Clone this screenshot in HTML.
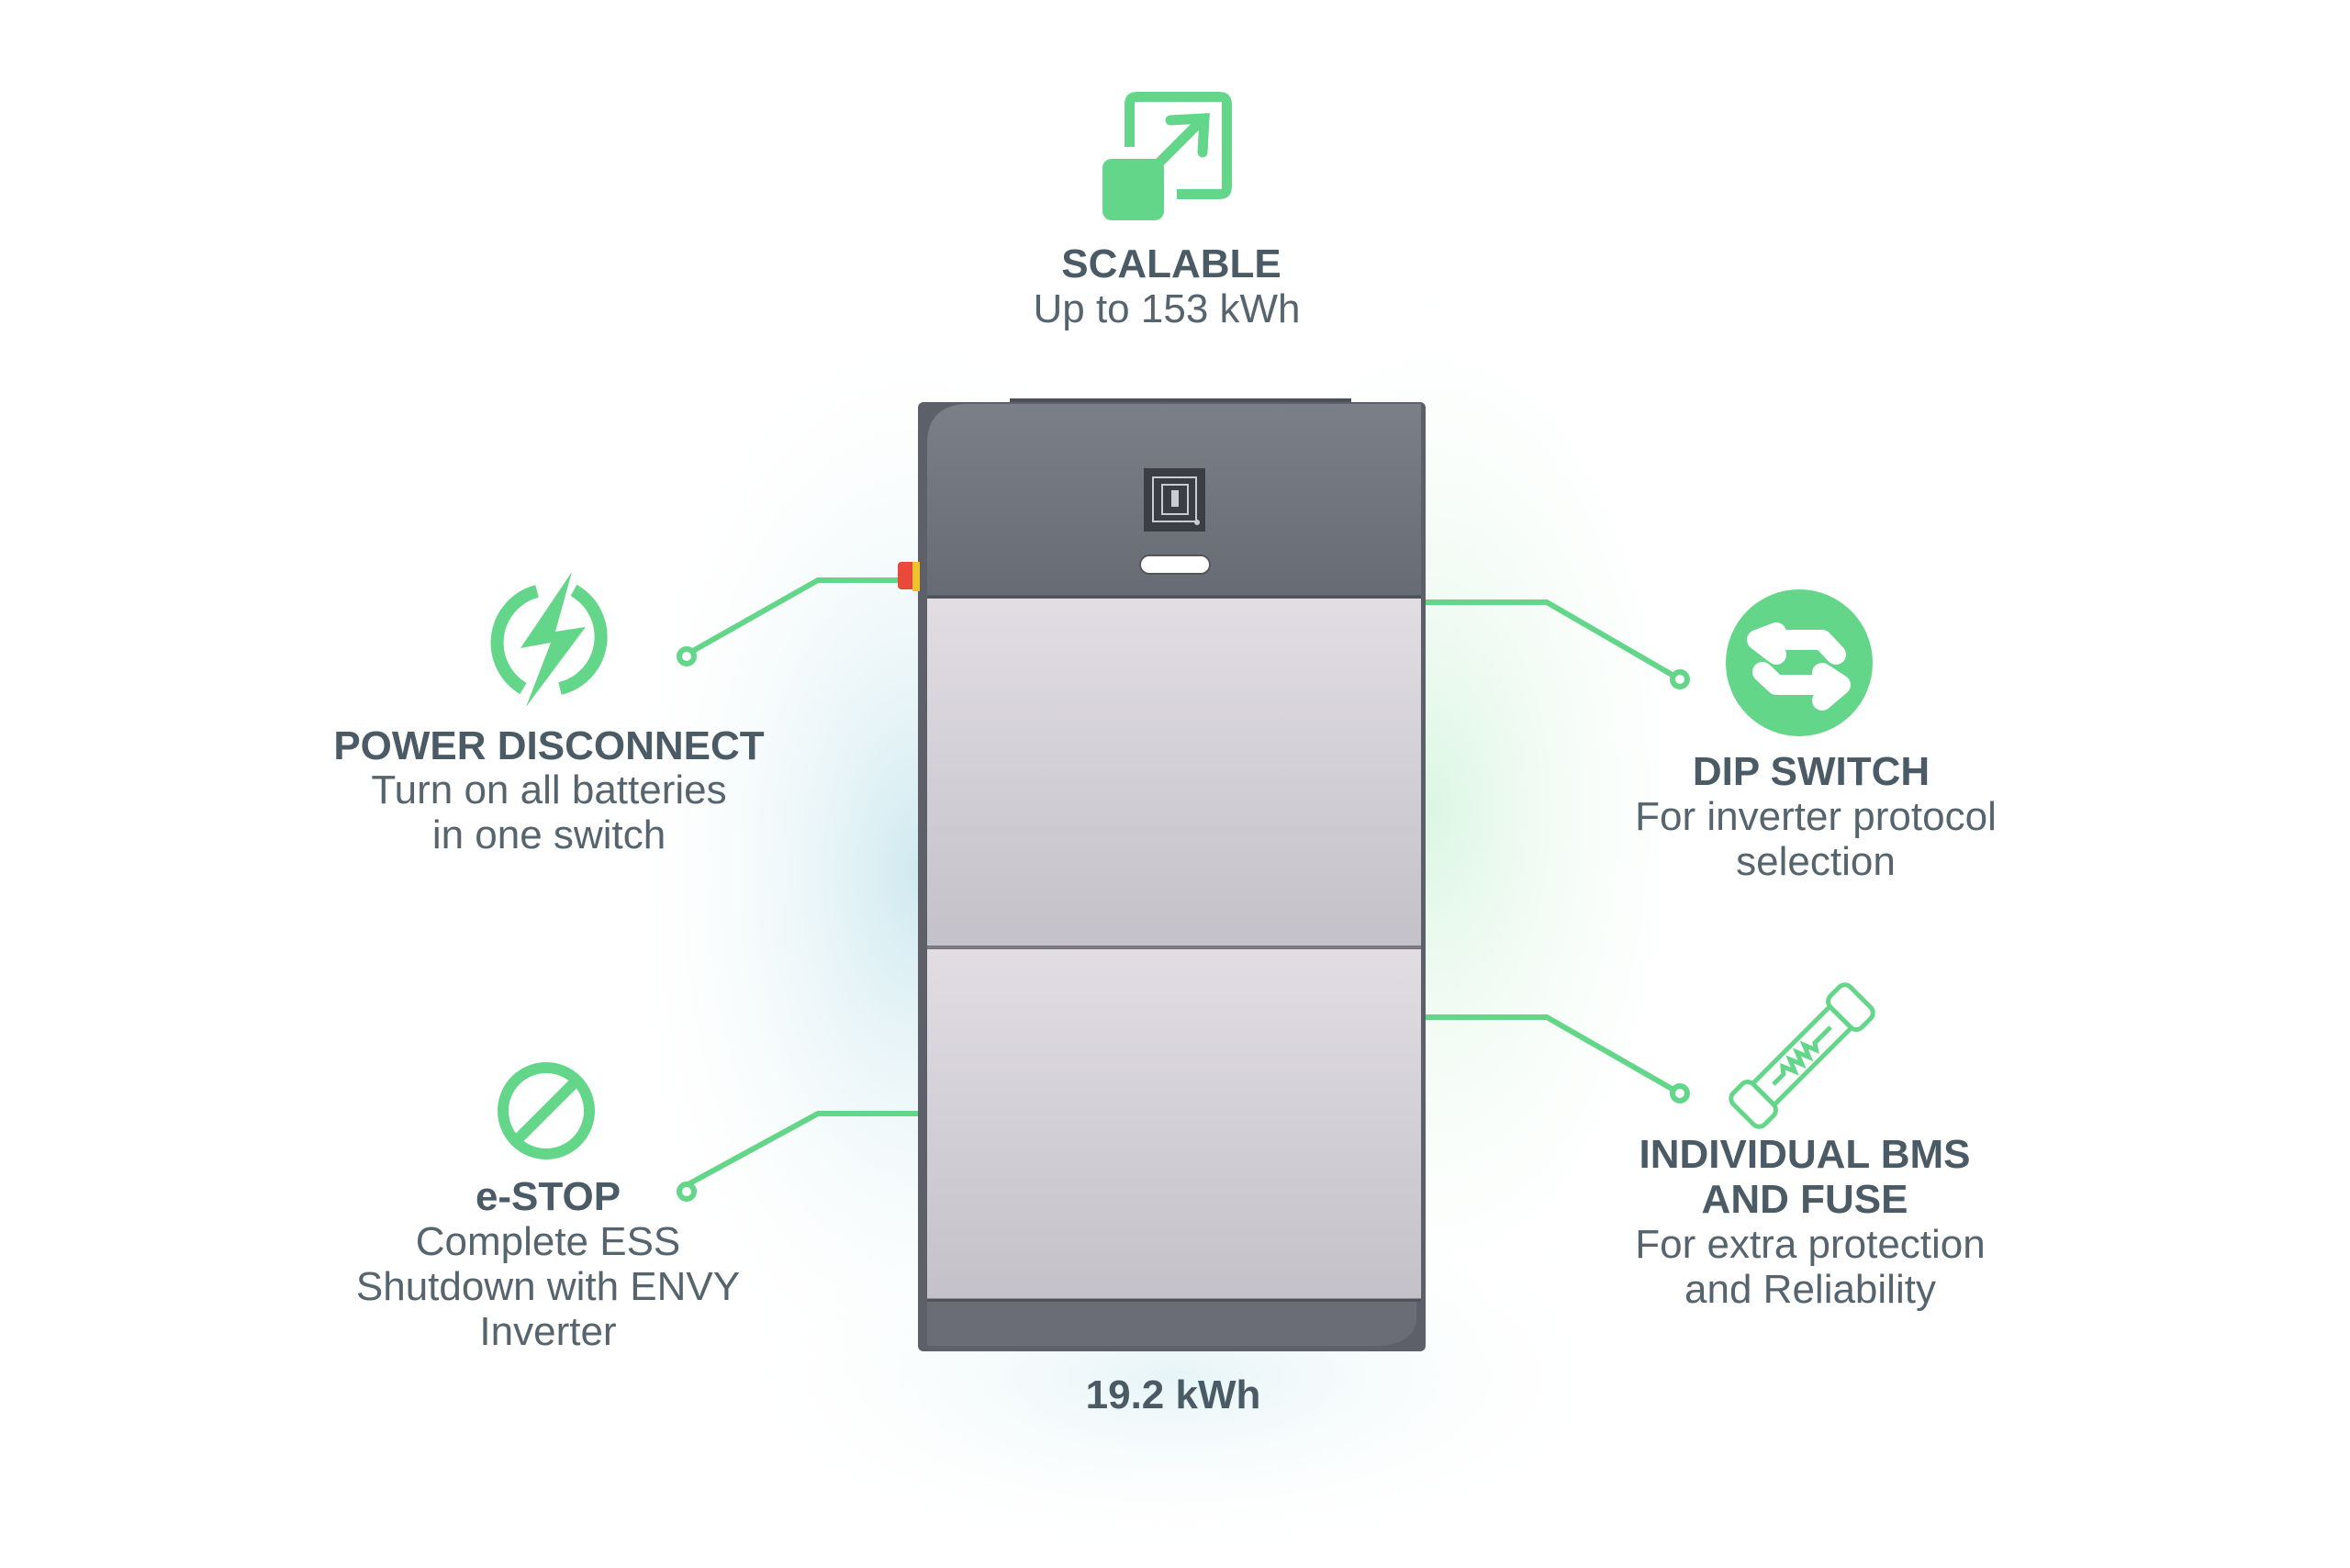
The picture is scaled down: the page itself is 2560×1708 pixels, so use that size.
<!DOCTYPE html>
<html><head><meta charset="utf-8"><style>
html,body{margin:0;padding:0;background:#fff;}
body{width:2560px;height:1708px;overflow:hidden;position:relative;font-family:"Liberation Sans",sans-serif;}
svg{position:absolute;left:0;top:0;}
</style></head><body>
<svg width="2560" height="1708" viewBox="0 0 2560 1708">
<defs>
<radialGradient id="gl" cx="0.5" cy="0.5" r="0.5">
<stop offset="0" stop-color="#bfe2eb" stop-opacity="0.75"/>
<stop offset="1" stop-color="#ffffff" stop-opacity="0"/>
</radialGradient>
<radialGradient id="gr" cx="0.5" cy="0.5" r="0.5">
<stop offset="0" stop-color="#cdf2d8" stop-opacity="0.7"/>
<stop offset="1" stop-color="#ffffff" stop-opacity="0"/>
</radialGradient>
<radialGradient id="gt" cx="0.5" cy="0.5" r="0.5">
<stop offset="0" stop-color="#dcf0f3" stop-opacity="0.7"/>
<stop offset="1" stop-color="#ffffff" stop-opacity="0"/>
</radialGradient>
<linearGradient id="pan" x1="0" y1="0" x2="0" y2="1">
<stop offset="0" stop-color="#e1dde3"/><stop offset="1" stop-color="#c4c1c9"/>
</linearGradient>
<linearGradient id="top" x1="0" y1="0" x2="0" y2="1">
<stop offset="0" stop-color="#7b8088"/><stop offset="1" stop-color="#676b74"/>
</linearGradient>
</defs>
<ellipse cx="1000" cy="950" rx="330" ry="620" fill="url(#gl)"/>
<ellipse cx="1560" cy="880" rx="320" ry="620" fill="url(#gr)"/>
<ellipse cx="1280" cy="1500" rx="500" ry="200" fill="url(#gt)"/>

<g stroke="#63d68a" stroke-width="6" fill="none">
<polyline points="746,714 891,632 1000,632"/>
<polyline points="746,1292 891,1213 1002,1213"/>
<polyline points="1550,656 1685,656 1830,740"/>
<polyline points="1550,1108 1685,1108 1830,1191"/>
</g>
<g fill="#fff" stroke="#63d68a" stroke-width="6">
<circle cx="748" cy="715" r="8"/><circle cx="748" cy="1298" r="8"/>
<circle cx="1830" cy="740" r="8"/><circle cx="1830" cy="1191" r="8"/>
</g>

<rect x="1100" y="434" width="372" height="8" fill="#4d5057"/>
<rect x="1000" y="438" width="553" height="1034" rx="6" fill="#5d6068"/>
<path d="M1010 440 H1548 V649 H1010 V480 Q1012 443 1050 440 Z" fill="url(#top)"/>
<rect x="1010" y="652" width="538" height="378" fill="url(#pan)"/>
<rect x="1010" y="1034" width="538" height="381" fill="url(#pan)"/>
<line x1="1010" y1="650" x2="1548" y2="650" stroke="#4e5159" stroke-width="3"/>
<line x1="1010" y1="1032" x2="1548" y2="1032" stroke="#7f7d86" stroke-width="3"/>
<line x1="1010" y1="1416" x2="1548" y2="1416" stroke="#4e5159" stroke-width="3"/>
<path d="M1010 1418 H1543 V1440 Q1538 1464 1503 1466 H1010 Z" fill="#6a6d75"/>
<rect x="1246" y="510" width="67" height="69" fill="#3b3e44"/>
<rect x="1256" y="520" width="47" height="48" fill="none" stroke="#c9ccd0" stroke-width="2"/>
<rect x="1266" y="528" width="28" height="32" fill="none" stroke="#c9ccd0" stroke-width="2"/>
<rect x="1276" y="534" width="8" height="18" fill="#c9ccd0"/>
<circle cx="1304" cy="569" r="3" fill="#c9ccd0"/>
<rect x="1242" y="605" width="76" height="20" rx="10" fill="#fff" stroke="#555" stroke-width="2"/>
<rect x="978" y="612" width="22" height="30" rx="4" fill="#e8493a"/>
<rect x="994" y="612" width="8" height="32" fill="#f2c12e"/>

<g fill="#63d68a">
<path d="M1225 160 V114 Q1225 100 1239 100 H1328 Q1342 100 1342 114 V203 Q1342 217 1328 217 H1282 V206 H1331 V111 H1236 V160 Z"/>
<rect x="1201" y="173" width="67" height="67" rx="10"/>
</g>
<g stroke="#63d68a" stroke-width="11" stroke-linecap="round" fill="none">
<line x1="1258" y1="182" x2="1310" y2="130"/>
<polyline points="1275,131 1312,129 1310,166"/>
</g>

<g fill="none" stroke="#63d68a" stroke-width="14">
<path d="M570 750 A58 58 0 0 1 585 644"/>
<path d="M625 643 A58 58 0 0 1 610 750"/>
</g>
<polygon points="623,623 567,706 600,700 573,770 638,683 605,688" fill="#63d68a"/>

<circle cx="595" cy="1210" r="47" fill="none" stroke="#63d68a" stroke-width="12"/>
<line x1="561" y1="1244" x2="629" y2="1176" stroke="#63d68a" stroke-width="12"/>

<circle cx="1960" cy="722" r="80" fill="#63d68a"/>
<g stroke="#fff" stroke-width="22" stroke-linecap="round" stroke-linejoin="round" fill="none">
<path d="M1935 689 L1914 697 L1935 713"/>
<path d="M1916 697 H1985 L2000 713"/>
<path d="M1985 733 L2005 746 L1985 763"/>
<path d="M2003 746 H1935 L1920 732"/>
</g>

<g transform="translate(1963,1150) rotate(-45) scale(1.1)" fill="none" stroke="#63d68a" stroke-width="4.5">
<rect x="-82" y="-22" width="28" height="44" rx="8"/>
<rect x="54" y="-22" width="28" height="44" rx="8"/>
<rect x="-54" y="-15" width="108" height="30"/>
<polyline points="-40,0 -26,0 -21,-6 -16,6 -11,-6 -6,6 -1,-6 4,6 9,-6 14,6 18,0 40,0"/>
</g>

<g font-family="Liberation Sans, sans-serif" text-anchor="middle">
<g font-weight="bold" fill="#4b5b66" font-size="44">
<text x="1276" y="302">SCALABLE</text>
<text x="598" y="827">POWER DISCONNECT</text>
<text x="597" y="1318">e-STOP</text>
<text x="1973" y="855">DIP SWITCH</text>
<text x="1966" y="1272">INDIVIDUAL BMS</text>
<text x="1966" y="1321">AND FUSE</text>
<text x="1278" y="1534">19.2 kWh</text>
</g>
<g fill="#56646e" font-size="44">
<text x="1271" y="351">Up to 153 kWh</text>
<text x="598" y="875">Turn on all batteries</text>
<text x="598" y="924">in one switch</text>
<text x="597" y="1367">Complete ESS</text>
<text x="597" y="1416">Shutdown with ENVY</text>
<text x="597" y="1465">Inverter</text>
<text x="1978" y="904">For inverter protocol</text>
<text x="1978" y="953">selection</text>
<text x="1972" y="1370">For extra protection</text>
<text x="1972" y="1419">and Reliability</text>
</g>
</g>
</svg>
</body></html>
